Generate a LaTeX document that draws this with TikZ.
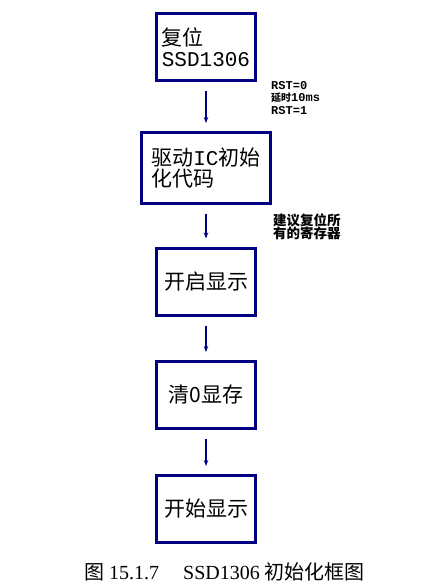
\documentclass[tikz,border=0pt]{standalone}
\usepackage{fontspec}
\setmainfont{Noto Sans CJK SC}
\newfontfamily\monofont{Liberation Mono}
\newfontfamily\serifcap{Liberation Serif}
\usepackage{tikz}
\usetikzlibrary{arrows.meta}
\definecolor{boxblue}{RGB}{0,0,128}

\begin{document}
\begin{tikzpicture}[x=1pt,y=-1pt]
\tikzstyle{every node}=[inner sep=0pt];
\tikzstyle{stepbox}=[draw=boxblue,line width=3pt,rectangle,minimum width=99pt,minimum height=67pt,align=left,font=\fontsize{21}{21}\selectfont];
\tikzstyle{flow}=[draw=boxblue,line width=1.3pt,-{Stealth[length=6pt,width=4.5pt]},shorten >=8pt,shorten <=9pt];
\useasboundingbox (0,0) rectangle (432,586);
\path (206,47) node[stepbox] (reset) {复位\\{\monofont SSD1306}};
\path (206,168) node[stepbox,minimum width=129pt,minimum height=71pt] (init) {驱动{\monofont IC}初始\\化代码};
\path (206,281.5) node[stepbox] (dispon) {开启显示};
\path (206,395) node[stepbox] (clear) {清0显存};
\path (206,509) node[stepbox] (start) {开始显示};
\path (271,81) node[anchor=north west,align=left,font=\bfseries\fontsize{10}{12.5}\selectfont] (rstnote) {{\monofont\fontsize{12}{12.5}\selectfont RST=0}\\延时{\monofont\fontsize{12}{12.5}\selectfont 10ms}\\{\monofont\fontsize{12}{12.5}\selectfont RST=1}};
\path (273,213) node[anchor=north west,align=left,font=\bfseries\fontsize{13.5}{13.5}\selectfont] (regnote) {建议复位所\\有的寄存器};
\path (224.5,572) node[font=\fontsize{20}{20}\selectfont] (caption) {图 {\serifcap 15.1.7}\hspace{1.2em}{\serifcap SSD1306} 初始化框图};
\draw[flow] (reset) -- (init);
\draw[flow] (init) -- (dispon);
\draw[flow] (dispon) -- (clear);
\draw[flow] (clear) -- (start);
\end{tikzpicture}
\end{document}
